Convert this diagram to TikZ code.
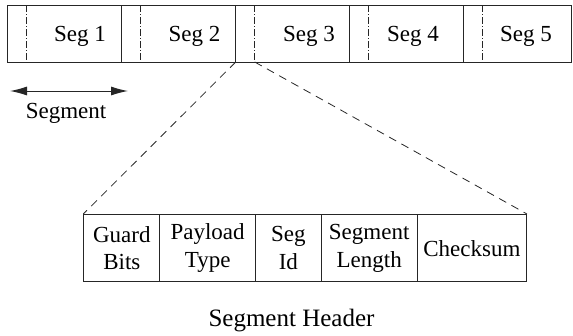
\documentclass[tikz,border=0pt]{standalone}
\usepackage{fontspec}
\setmainfont{Liberation Serif}
\usetikzlibrary{arrows.meta}
\begin{document}
\begin{tikzpicture}[x=1pt,y=-1pt,
  ln/.style={line width=1pt,draw=black!85},
  dd/.style={line width=0.8pt,draw=black!85,dash pattern=on 7pt off 2pt on 1pt off 2pt},
  lbl/.style={font=\fontsize{23}{27.5}\selectfont,inner sep=0pt},
  cell/.style={ln,minimum height=67.3pt,inner sep=0pt,font=\fontsize{23}{27.5}\selectfont,align=center,anchor=north west},
  conn/.style={line width=0.8pt,draw=black!85,dash pattern=on 8pt off 6pt}]
\useasboundingbox (0,0) rectangle (573,335);
% top bar
\node[ln,draw,minimum width=564pt,minimum height=57pt,inner sep=0pt,anchor=north west] (bar) at (7,5) {};
\foreach \x in {121.7,235.7,349.7,463.3}{\draw[ln] (\x,5) -- (\x,62);}
\foreach \x in {26.7,140.7,254.7,368.7,482.3}{\draw[dd] (\x,5) -- (\x,62);}
\node[lbl,anchor=base] (s1) at (80,41) {Seg 1};
\node[lbl,anchor=base] (s2) at (194.5,41) {Seg 2};
\node[lbl,anchor=base] (s3) at (309,41) {Seg 3};
\node[lbl,anchor=base] (s4) at (413,41) {Seg 4};
\node[lbl,anchor=base] (s5) at (526,41) {Seg 5};
\coordinate (ha) at (235.7,62);
\coordinate (hb) at (254.7,62);
% segment arrow
\coordinate (al) at (10,91);
\coordinate (ar) at (128,91);
\draw[line width=1pt,draw=black!85,{Latex[length=17pt,width=9pt]}-{Latex[length=17pt,width=9pt]}] (al) -- (ar);
\node[lbl] (seglbl) at (66,113) {Segment};
% header cells
\node[cell,minimum width=76pt] (c1) at (83.3,214) {Guard\\Bits};
\node[cell,minimum width=95.7pt] (c2) at (159.3,214) {Payload\\Type};
\node[cell,minimum width=65.7pt] (c3) at (255,214) {Seg\\Id};
\node[cell,minimum width=96pt] (c4) at (320.7,214) {Segment\\Length};
\node[cell,minimum width=109.3pt] (c5) at (416.7,214) {Checksum};
% connectors
\draw[conn] (ha) -- (c1.north west);
\draw[conn] (hb) -- (c5.north east);
\node[inner sep=0pt,font=\fontsize{25}{30}\selectfont] (hdr) at (291.5,321) {Segment Header};
\end{tikzpicture}
\end{document}
